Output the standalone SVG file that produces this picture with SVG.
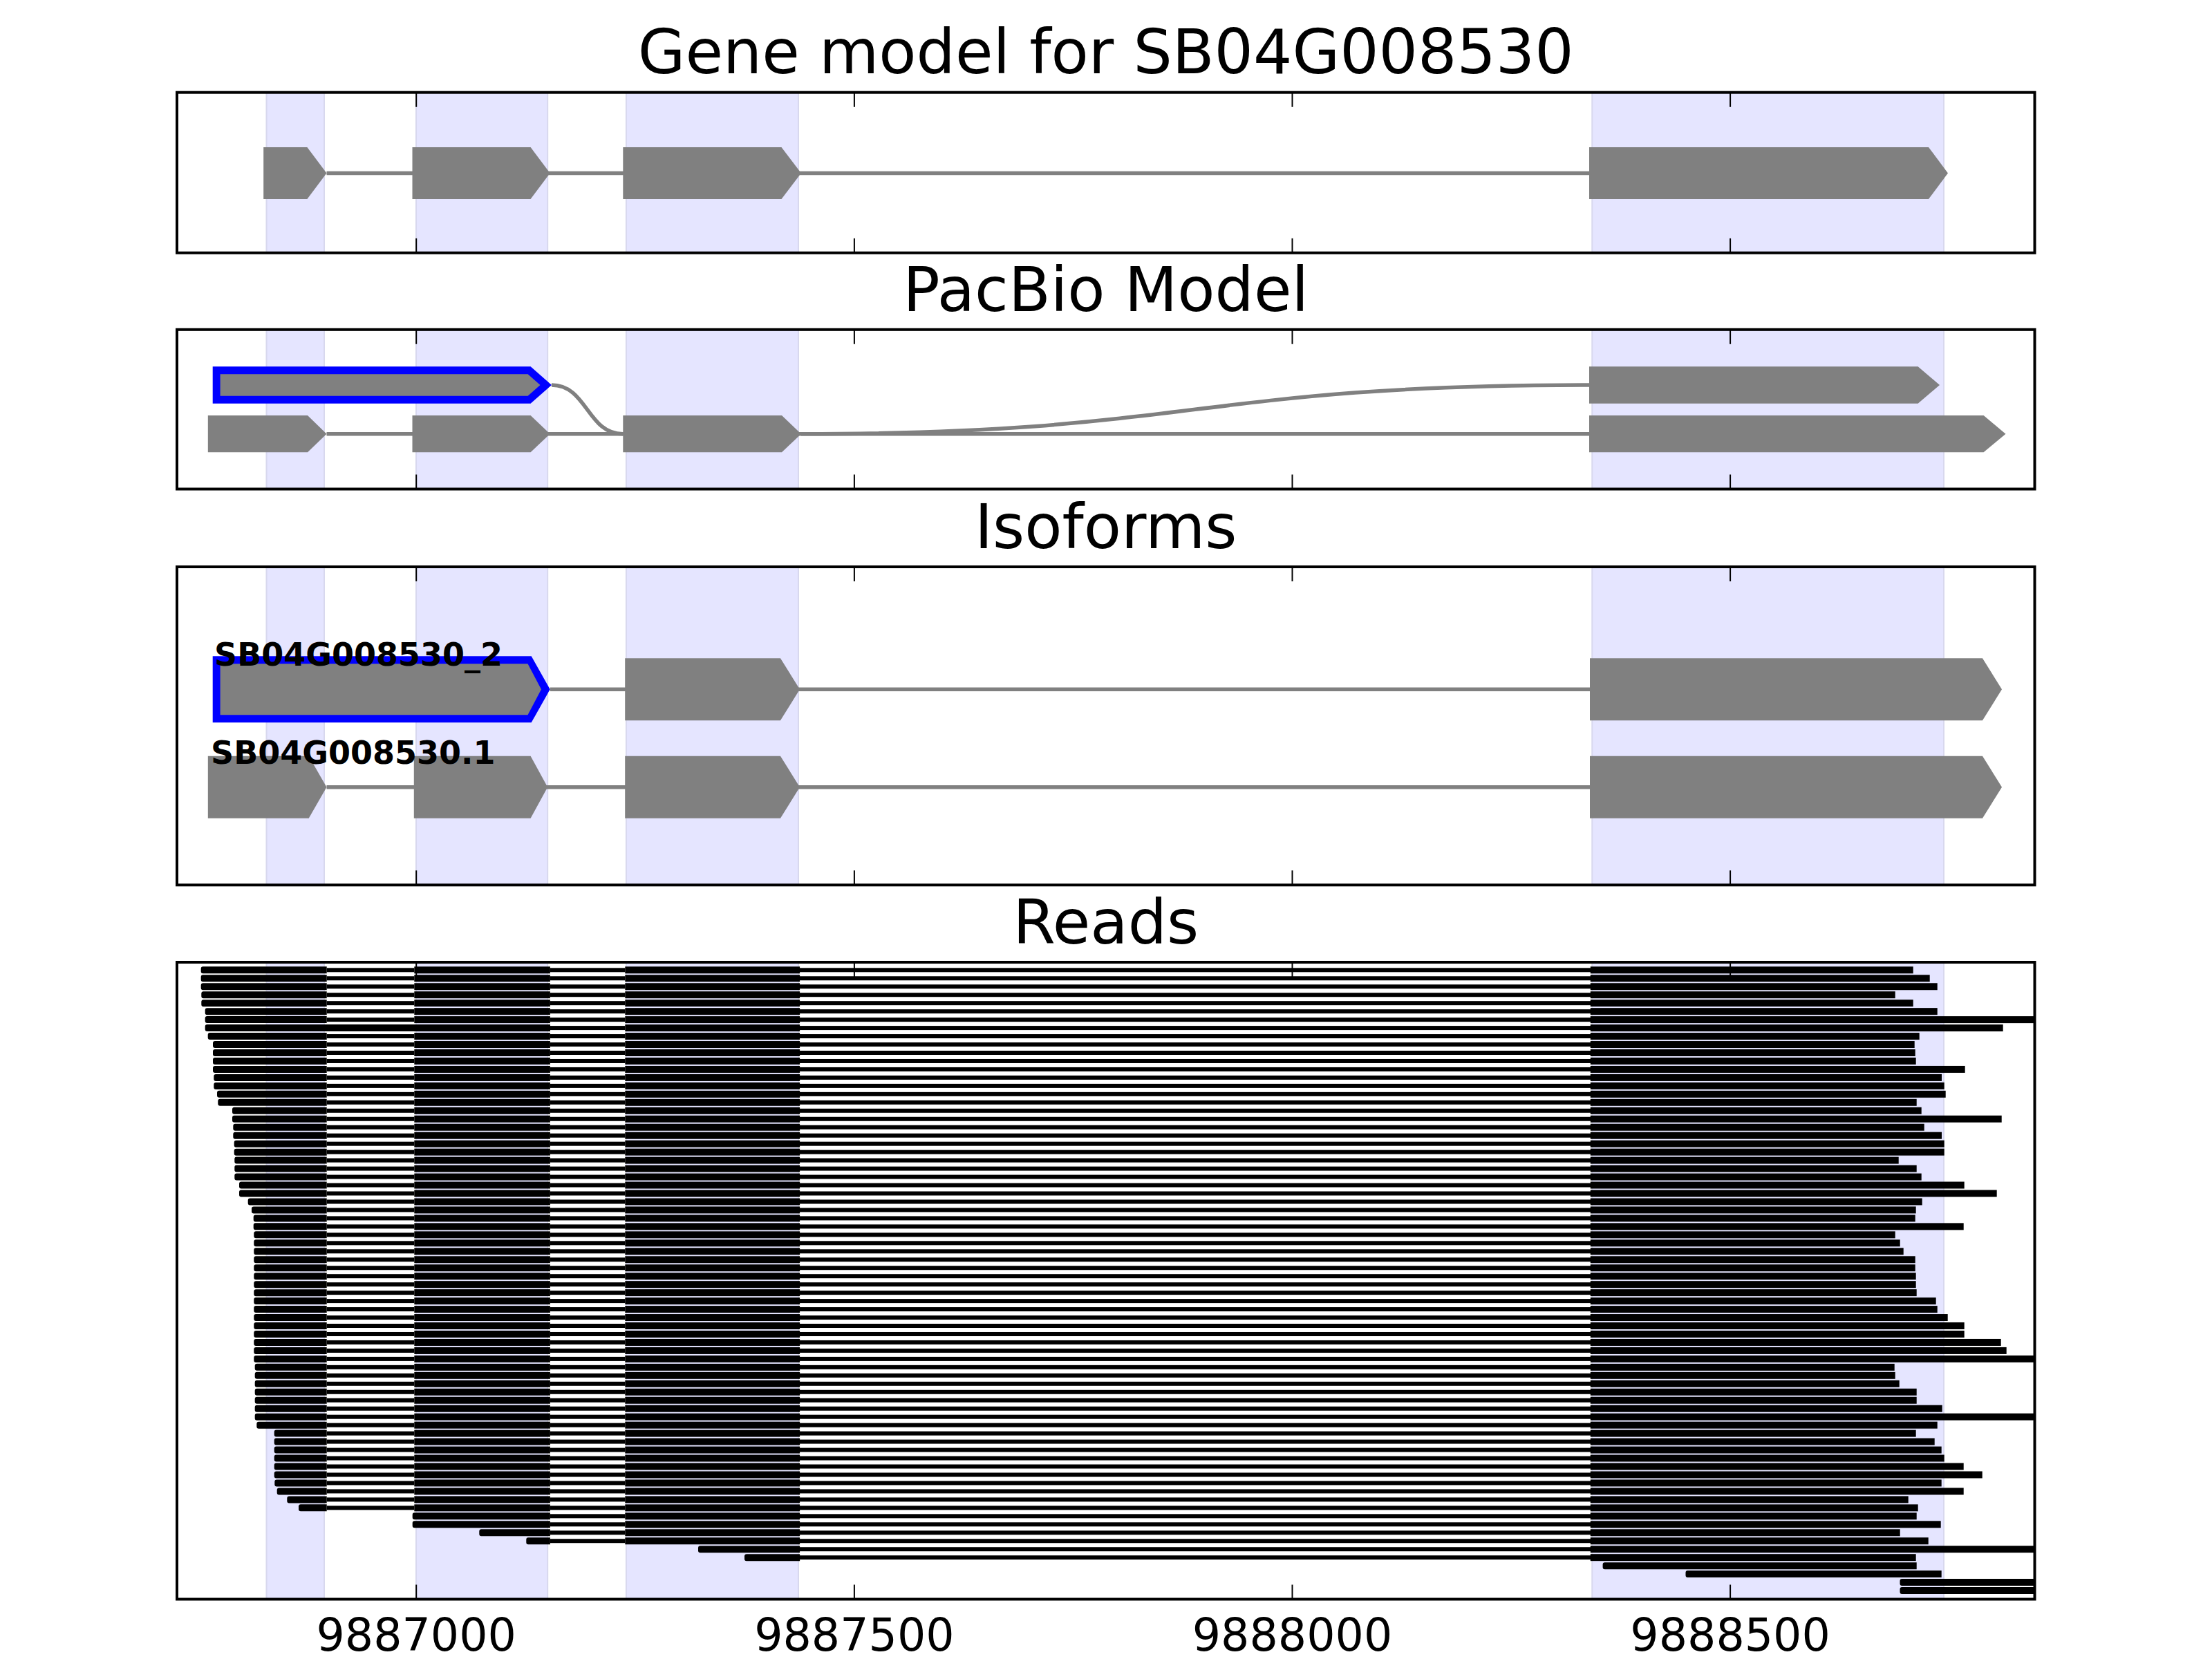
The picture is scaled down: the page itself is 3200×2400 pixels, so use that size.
<svg xmlns="http://www.w3.org/2000/svg" xmlns:xlink="http://www.w3.org/1999/xlink" width="3200" height="2400" viewBox="0 0 3200 2400">
<style>
.title{font-family:"DejaVu Sans","Liberation Sans",sans-serif;font-size:88.7px;text-anchor:middle;fill:#000}
.tick{font-family:"DejaVu Sans","Liberation Sans",sans-serif;font-size:65px;text-anchor:middle;fill:#000}
.lab{font-family:"DejaVu Sans","Liberation Sans",sans-serif;font-size:46px;font-weight:bold;fill:#000}
.span{fill:#e5e5ff;stroke:#d8d8ee;stroke-width:2}
.frame{fill:none;stroke:#000;stroke-width:4}
.ticks{fill:none;stroke:#000;stroke-width:2}
.exon{fill:#808080}
.sel{fill:#0000ff}
.intron{fill:none;stroke:#808080;stroke-width:5.5}
.reads rect,.reads path{fill:#000}
</style>
<defs>
<g id="t3"><rect x="1157" y="-3" width="1144" height="6"/></g>
<g id="m3"><rect x="904.3" y="-5" width="252.8" height="10"/><use xlink:href="#t3"/></g>
<g id="m2"><rect x="795.9" y="-3" width="108.4" height="6"/><use xlink:href="#m3"/></g>
<g id="m1"><rect x="472.7" y="-3" width="126.6" height="6"/><rect x="599.3" y="-5" width="196.6" height="10"/><use xlink:href="#m2"/></g>
</defs>
<rect x="0" y="0" width="3200" height="2400" fill="#fff"/>

<g id="spans">
<rect class="span" x="385.5" y="133.7" width="83.5" height="232.1"/>
<rect class="span" x="602" y="133.7" width="190.2" height="232.1"/>
<rect class="span" x="905.9" y="133.7" width="249.1" height="232.1"/>
<rect class="span" x="2303.3" y="133.7" width="508.7" height="232.1"/>
<rect class="span" x="385.5" y="476.8" width="83.5" height="230.7"/>
<rect class="span" x="602" y="476.8" width="190.2" height="230.7"/>
<rect class="span" x="905.9" y="476.8" width="249.1" height="230.7"/>
<rect class="span" x="2303.3" y="476.8" width="508.7" height="230.7"/>
<rect class="span" x="385.5" y="820" width="83.5" height="460.3"/>
<rect class="span" x="602" y="820" width="190.2" height="460.3"/>
<rect class="span" x="905.9" y="820" width="249.1" height="460.3"/>
<rect class="span" x="2303.3" y="820" width="508.7" height="460.3"/>
<rect class="span" x="385.5" y="1392" width="83.5" height="921.5"/>
<rect class="span" x="602" y="1392" width="190.2" height="921.5"/>
<rect class="span" x="905.9" y="1392" width="249.1" height="921.5"/>
<rect class="span" x="2303.3" y="1392" width="508.7" height="921.5"/>
</g>

<g id="gene-model">
<line class="intron" x1="472.5" y1="250.5" x2="2299" y2="250.5"/>
<polygon class="exon" points="381.2,213 444.4,213 472.5,250.5 444.4,288 381.2,288"/>
<polygon class="exon" points="596.5,213 767.6,213 795.7,250.5 767.6,288 596.5,288"/>
<polygon class="exon" points="901.3,213 1130.5,213 1159,250.5 1130.5,288 901.3,288"/>
<polygon class="exon" points="2299,213 2790,213 2818,250.5 2790,288 2299,288"/>
</g>

<g id="pacbio">
<path class="intron" d="M798,557 C849.5,557 849.5,627.7 901,627.7"/>
<path class="intron" d="M1159,627.7 C1729,627.7 1729,557 2299,557"/>
<line class="intron" x1="472.5" y1="627.7" x2="2299" y2="627.7"/>
<polygon class="sel" points="307.7,530.3 767.6,530.3 798,557 767.6,583.7 307.7,583.7"/>
<polygon class="exon" points="318.6,541.3 763.6,541.3 781.5,557 763.6,572.7 318.6,572.7"/>
<polygon class="exon" points="2299,530.3 2774.6,530.3 2806,557 2774.6,583.7 2299,583.7"/>
<polygon class="exon" points="300.8,601 445,601 472.5,627.7 445,654.3 300.8,654.3"/>
<polygon class="exon" points="596.5,601 767.6,601 795.7,627.7 767.6,654.3 596.5,654.3"/>
<polygon class="exon" points="901.3,601 1131,601 1159,627.7 1131,654.3 901.3,654.3"/>
<polygon class="exon" points="2299,601 2869.6,601 2901.5,627.7 2869.6,654.3 2299,654.3"/>
</g>

<g id="isoforms">
<line class="intron" x1="795.7" y1="997.3" x2="2300" y2="997.3"/>
<line class="intron" x1="472.5" y1="1138.7" x2="2300" y2="1138.7"/>
<polygon class="sel" points="307.7,949.3 768.7,949.3 795.7,997.3 768.7,1045.3 307.7,1045.3"/>
<polygon class="exon" points="318.6,960.3 763.5,960.3 783,997.3 763.5,1034.3 318.6,1034.3"/>
<polygon class="exon" points="904.2,952.3 1129,952.3 1157,997.3 1129,1042.3 904.2,1042.3"/>
<polygon class="exon" points="2300,952.3 2868,952.3 2896,997.3 2868,1042.3 2300,1042.3"/>
<polygon class="exon" points="300.8,1093.7 446.7,1093.7 472.5,1138.7 446.7,1183.7 300.8,1183.7"/>
<polygon class="exon" points="598.8,1093.7 767.6,1093.7 792.2,1138.7 767.6,1183.7 598.8,1183.7"/>
<polygon class="exon" points="904.2,1093.7 1129,1093.7 1157,1138.7 1129,1183.7 904.2,1183.7"/>
<polygon class="exon" points="2300,1093.7 2868,1093.7 2896,1138.7 2868,1183.7 2300,1183.7"/>
<text class="lab" x="310" y="963">SB04G008530_2</text>
<text class="lab" x="305" y="1105">SB04G008530.1</text>
</g>

<g id="reads" class="reads">
<g transform="translate(0,1403.3)"><path d="M293.7,-5H472.7v10H293.7a3,3 0 0 1-3-3v-4a3,3 0 0 1 3-3z"/><use xlink:href="#m1"/><rect x="2300.8" y="-5" width="466.9" height="10"/></g>
<g transform="translate(0,1415.27)"><path d="M293.7,-5H472.7v10H293.7a3,3 0 0 1-3-3v-4a3,3 0 0 1 3-3z"/><use xlink:href="#m1"/><rect x="2300.8" y="-5" width="490.9" height="10"/></g>
<g transform="translate(0,1427.24)"><path d="M293.7,-5H472.7v10H293.7a3,3 0 0 1-3-3v-4a3,3 0 0 1 3-3z"/><use xlink:href="#m1"/><rect x="2300.8" y="-5" width="501.9" height="10"/></g>
<g transform="translate(0,1439.21)"><path d="M294.3,-5H472.7v10H294.3a3,3 0 0 1-3-3v-4a3,3 0 0 1 3-3z"/><use xlink:href="#m1"/><rect x="2300.8" y="-5" width="440.9" height="10"/></g>
<g transform="translate(0,1451.18)"><path d="M294.3,-5H472.7v10H294.3a3,3 0 0 1-3-3v-4a3,3 0 0 1 3-3z"/><use xlink:href="#m1"/><rect x="2300.8" y="-5" width="466.9" height="10"/></g>
<g transform="translate(0,1463.15)"><path d="M299.7,-5H472.7v10H299.7a3,3 0 0 1-3-3v-4a3,3 0 0 1 3-3z"/><use xlink:href="#m1"/><rect x="2300.8" y="-5" width="501.9" height="10"/></g>
<g transform="translate(0,1475.12)"><path d="M299.7,-5H472.7v10H299.7a3,3 0 0 1-3-3v-4a3,3 0 0 1 3-3z"/><use xlink:href="#m1"/><rect x="2300.8" y="-5" width="642.2" height="10"/></g>
<g transform="translate(0,1487.09)"><path d="M299.7,-5H795.9v10H299.7a3,3 0 0 1-3-3v-4a3,3 0 0 1 3-3z"/><use xlink:href="#m1"/><rect x="2300.8" y="-5" width="596.9" height="10"/></g>
<g transform="translate(0,1499.06)"><path d="M303.7,-5H472.7v10H303.7a3,3 0 0 1-3-3v-4a3,3 0 0 1 3-3z"/><use xlink:href="#m1"/><rect x="2300.8" y="-5" width="475.9" height="10"/></g>
<g transform="translate(0,1511.03)"><path d="M311,-5H472.7v10H311a3,3 0 0 1-3-3v-4a3,3 0 0 1 3-3z"/><use xlink:href="#m1"/><rect x="2300.8" y="-5" width="468.9" height="10"/></g>
<g transform="translate(0,1523)"><path d="M311,-5H472.7v10H311a3,3 0 0 1-3-3v-4a3,3 0 0 1 3-3z"/><use xlink:href="#m1"/><rect x="2300.8" y="-5" width="469.9" height="10"/></g>
<g transform="translate(0,1534.97)"><path d="M311,-5H472.7v10H311a3,3 0 0 1-3-3v-4a3,3 0 0 1 3-3z"/><use xlink:href="#m1"/><rect x="2300.8" y="-5" width="470.9" height="10"/></g>
<g transform="translate(0,1546.94)"><path d="M311,-5H472.7v10H311a3,3 0 0 1-3-3v-4a3,3 0 0 1 3-3z"/><use xlink:href="#m1"/><rect x="2300.8" y="-5" width="541.9" height="10"/></g>
<g transform="translate(0,1558.91)"><path d="M312.3,-5H472.7v10H312.3a3,3 0 0 1-3-3v-4a3,3 0 0 1 3-3z"/><use xlink:href="#m1"/><rect x="2300.8" y="-5" width="508.2" height="10"/></g>
<g transform="translate(0,1570.88)"><path d="M312.3,-5H472.7v10H312.3a3,3 0 0 1-3-3v-4a3,3 0 0 1 3-3z"/><use xlink:href="#m1"/><rect x="2300.8" y="-5" width="511.9" height="10"/></g>
<g transform="translate(0,1582.85)"><path d="M317,-5H472.7v10H317a3,3 0 0 1-3-3v-4a3,3 0 0 1 3-3z"/><use xlink:href="#m1"/><rect x="2300.8" y="-5" width="513.9" height="10"/></g>
<g transform="translate(0,1594.82)"><path d="M318.3,-5H472.7v10H318.3a3,3 0 0 1-3-3v-4a3,3 0 0 1 3-3z"/><use xlink:href="#m1"/><rect x="2300.8" y="-5" width="471.9" height="10"/></g>
<g transform="translate(0,1606.79)"><path d="M339,-5H472.7v10H339a3,3 0 0 1-3-3v-4a3,3 0 0 1 3-3z"/><use xlink:href="#m1"/><rect x="2300.8" y="-5" width="478.9" height="10"/></g>
<g transform="translate(0,1618.76)"><path d="M339,-5H472.7v10H339a3,3 0 0 1-3-3v-4a3,3 0 0 1 3-3z"/><use xlink:href="#m1"/><rect x="2300.8" y="-5" width="594.9" height="10"/></g>
<g transform="translate(0,1630.73)"><path d="M340.3,-5H472.7v10H340.3a3,3 0 0 1-3-3v-4a3,3 0 0 1 3-3z"/><use xlink:href="#m1"/><rect x="2300.8" y="-5" width="482.9" height="10"/></g>
<g transform="translate(0,1642.7)"><path d="M340.3,-5H472.7v10H340.3a3,3 0 0 1-3-3v-4a3,3 0 0 1 3-3z"/><use xlink:href="#m1"/><rect x="2300.8" y="-5" width="508.2" height="10"/></g>
<g transform="translate(0,1654.67)"><path d="M341.7,-5H472.7v10H341.7a3,3 0 0 1-3-3v-4a3,3 0 0 1 3-3z"/><use xlink:href="#m1"/><rect x="2300.8" y="-5" width="511.9" height="10"/></g>
<g transform="translate(0,1666.64)"><path d="M341.7,-5H472.7v10H341.7a3,3 0 0 1-3-3v-4a3,3 0 0 1 3-3z"/><use xlink:href="#m1"/><rect x="2300.8" y="-5" width="511.9" height="10"/></g>
<g transform="translate(0,1678.61)"><path d="M342.3,-5H472.7v10H342.3a3,3 0 0 1-3-3v-4a3,3 0 0 1 3-3z"/><use xlink:href="#m1"/><rect x="2300.8" y="-5" width="445.9" height="10"/></g>
<g transform="translate(0,1690.58)"><path d="M342.3,-5H472.7v10H342.3a3,3 0 0 1-3-3v-4a3,3 0 0 1 3-3z"/><use xlink:href="#m1"/><rect x="2300.8" y="-5" width="471.9" height="10"/></g>
<g transform="translate(0,1702.55)"><path d="M342.3,-5H472.7v10H342.3a3,3 0 0 1-3-3v-4a3,3 0 0 1 3-3z"/><use xlink:href="#m1"/><rect x="2300.8" y="-5" width="478.9" height="10"/></g>
<g transform="translate(0,1714.52)"><path d="M349,-5H472.7v10H349a3,3 0 0 1-3-3v-4a3,3 0 0 1 3-3z"/><use xlink:href="#m1"/><rect x="2300.8" y="-5" width="540.9" height="10"/></g>
<g transform="translate(0,1726.49)"><path d="M349,-5H472.7v10H349a3,3 0 0 1-3-3v-4a3,3 0 0 1 3-3z"/><use xlink:href="#m1"/><rect x="2300.8" y="-5" width="587.9" height="10"/></g>
<g transform="translate(0,1738.46)"><path d="M361.7,-5H472.7v10H361.7a3,3 0 0 1-3-3v-4a3,3 0 0 1 3-3z"/><use xlink:href="#m1"/><rect x="2300.8" y="-5" width="479.9" height="10"/></g>
<g transform="translate(0,1750.43)"><path d="M367,-5H472.7v10H367a3,3 0 0 1-3-3v-4a3,3 0 0 1 3-3z"/><use xlink:href="#m1"/><rect x="2300.8" y="-5" width="470.9" height="10"/></g>
<g transform="translate(0,1762.4)"><path d="M369.7,-5H472.7v10H369.7a3,3 0 0 1-3-3v-4a3,3 0 0 1 3-3z"/><use xlink:href="#m1"/><rect x="2300.8" y="-5" width="469.9" height="10"/></g>
<g transform="translate(0,1774.37)"><path d="M369.7,-5H472.7v10H369.7a3,3 0 0 1-3-3v-4a3,3 0 0 1 3-3z"/><use xlink:href="#m1"/><rect x="2300.8" y="-5" width="539.9" height="10"/></g>
<g transform="translate(0,1786.34)"><path d="M370.3,-5H472.7v10H370.3a3,3 0 0 1-3-3v-4a3,3 0 0 1 3-3z"/><use xlink:href="#m1"/><rect x="2300.8" y="-5" width="440.9" height="10"/></g>
<g transform="translate(0,1798.31)"><path d="M370.3,-5H472.7v10H370.3a3,3 0 0 1-3-3v-4a3,3 0 0 1 3-3z"/><use xlink:href="#m1"/><rect x="2300.8" y="-5" width="447.9" height="10"/></g>
<g transform="translate(0,1810.28)"><path d="M370.3,-5H472.7v10H370.3a3,3 0 0 1-3-3v-4a3,3 0 0 1 3-3z"/><use xlink:href="#m1"/><rect x="2300.8" y="-5" width="452.9" height="10"/></g>
<g transform="translate(0,1822.25)"><path d="M370.3,-5H472.7v10H370.3a3,3 0 0 1-3-3v-4a3,3 0 0 1 3-3z"/><use xlink:href="#m1"/><rect x="2300.8" y="-5" width="469.9" height="10"/></g>
<g transform="translate(0,1834.22)"><path d="M370.3,-5H472.7v10H370.3a3,3 0 0 1-3-3v-4a3,3 0 0 1 3-3z"/><use xlink:href="#m1"/><rect x="2300.8" y="-5" width="469.9" height="10"/></g>
<g transform="translate(0,1846.19)"><path d="M370.3,-5H472.7v10H370.3a3,3 0 0 1-3-3v-4a3,3 0 0 1 3-3z"/><use xlink:href="#m1"/><rect x="2300.8" y="-5" width="470.9" height="10"/></g>
<g transform="translate(0,1858.16)"><path d="M370.3,-5H472.7v10H370.3a3,3 0 0 1-3-3v-4a3,3 0 0 1 3-3z"/><use xlink:href="#m1"/><rect x="2300.8" y="-5" width="470.9" height="10"/></g>
<g transform="translate(0,1870.13)"><path d="M370.3,-5H472.7v10H370.3a3,3 0 0 1-3-3v-4a3,3 0 0 1 3-3z"/><use xlink:href="#m1"/><rect x="2300.8" y="-5" width="471.9" height="10"/></g>
<g transform="translate(0,1882.1)"><path d="M370.3,-5H472.7v10H370.3a3,3 0 0 1-3-3v-4a3,3 0 0 1 3-3z"/><use xlink:href="#m1"/><rect x="2300.8" y="-5" width="499.9" height="10"/></g>
<g transform="translate(0,1894.07)"><path d="M370.3,-5H472.7v10H370.3a3,3 0 0 1-3-3v-4a3,3 0 0 1 3-3z"/><use xlink:href="#m1"/><rect x="2300.8" y="-5" width="501.9" height="10"/></g>
<g transform="translate(0,1906.04)"><path d="M370.3,-5H472.7v10H370.3a3,3 0 0 1-3-3v-4a3,3 0 0 1 3-3z"/><use xlink:href="#m1"/><rect x="2300.8" y="-5" width="516.9" height="10"/></g>
<g transform="translate(0,1918.01)"><path d="M370.3,-5H472.7v10H370.3a3,3 0 0 1-3-3v-4a3,3 0 0 1 3-3z"/><use xlink:href="#m1"/><rect x="2300.8" y="-5" width="540.9" height="10"/></g>
<g transform="translate(0,1929.98)"><path d="M370.3,-5H472.7v10H370.3a3,3 0 0 1-3-3v-4a3,3 0 0 1 3-3z"/><use xlink:href="#m1"/><rect x="2300.8" y="-5" width="540.9" height="10"/></g>
<g transform="translate(0,1941.95)"><path d="M370.3,-5H472.7v10H370.3a3,3 0 0 1-3-3v-4a3,3 0 0 1 3-3z"/><use xlink:href="#m1"/><rect x="2300.8" y="-5" width="593.9" height="10"/></g>
<g transform="translate(0,1953.92)"><path d="M370.3,-5H472.7v10H370.3a3,3 0 0 1-3-3v-4a3,3 0 0 1 3-3z"/><use xlink:href="#m1"/><rect x="2300.8" y="-5" width="601.9" height="10"/></g>
<g transform="translate(0,1965.89)"><path d="M370.3,-5H472.7v10H370.3a3,3 0 0 1-3-3v-4a3,3 0 0 1 3-3z"/><use xlink:href="#m1"/><rect x="2300.8" y="-5" width="642.2" height="10"/></g>
<g transform="translate(0,1977.86)"><path d="M371.7,-5H472.7v10H371.7a3,3 0 0 1-3-3v-4a3,3 0 0 1 3-3z"/><use xlink:href="#m1"/><rect x="2300.8" y="-5" width="439.9" height="10"/></g>
<g transform="translate(0,1989.83)"><path d="M371.7,-5H472.7v10H371.7a3,3 0 0 1-3-3v-4a3,3 0 0 1 3-3z"/><use xlink:href="#m1"/><rect x="2300.8" y="-5" width="440.9" height="10"/></g>
<g transform="translate(0,2001.8)"><path d="M371.7,-5H472.7v10H371.7a3,3 0 0 1-3-3v-4a3,3 0 0 1 3-3z"/><use xlink:href="#m1"/><rect x="2300.8" y="-5" width="446.9" height="10"/></g>
<g transform="translate(0,2013.77)"><path d="M371.7,-5H472.7v10H371.7a3,3 0 0 1-3-3v-4a3,3 0 0 1 3-3z"/><use xlink:href="#m1"/><rect x="2300.8" y="-5" width="471.9" height="10"/></g>
<g transform="translate(0,2025.74)"><path d="M371.7,-5H472.7v10H371.7a3,3 0 0 1-3-3v-4a3,3 0 0 1 3-3z"/><use xlink:href="#m1"/><rect x="2300.8" y="-5" width="471.9" height="10"/></g>
<g transform="translate(0,2037.71)"><path d="M371.7,-5H472.7v10H371.7a3,3 0 0 1-3-3v-4a3,3 0 0 1 3-3z"/><use xlink:href="#m1"/><rect x="2300.8" y="-5" width="508.9" height="10"/></g>
<g transform="translate(0,2049.68)"><path d="M371.7,-5H472.7v10H371.7a3,3 0 0 1-3-3v-4a3,3 0 0 1 3-3z"/><use xlink:href="#m1"/><rect x="2300.8" y="-5" width="642.2" height="10"/></g>
<g transform="translate(0,2061.65)"><path d="M374.3,-5H472.7v10H374.3a3,3 0 0 1-3-3v-4a3,3 0 0 1 3-3z"/><use xlink:href="#m1"/><rect x="2300.8" y="-5" width="501.9" height="10"/></g>
<g transform="translate(0,2073.62)"><path d="M399.7,-5H472.7v10H399.7a3,3 0 0 1-3-3v-4a3,3 0 0 1 3-3z"/><use xlink:href="#m1"/><rect x="2300.8" y="-5" width="470.9" height="10"/></g>
<g transform="translate(0,2085.59)"><path d="M399.7,-5H472.7v10H399.7a3,3 0 0 1-3-3v-4a3,3 0 0 1 3-3z"/><use xlink:href="#m1"/><rect x="2300.8" y="-5" width="497.9" height="10"/></g>
<g transform="translate(0,2097.56)"><path d="M399.7,-5H472.7v10H399.7a3,3 0 0 1-3-3v-4a3,3 0 0 1 3-3z"/><use xlink:href="#m1"/><rect x="2300.8" y="-5" width="507.9" height="10"/></g>
<g transform="translate(0,2109.53)"><path d="M399.7,-5H472.7v10H399.7a3,3 0 0 1-3-3v-4a3,3 0 0 1 3-3z"/><use xlink:href="#m1"/><rect x="2300.8" y="-5" width="511.9" height="10"/></g>
<g transform="translate(0,2121.5)"><path d="M399.7,-5H472.7v10H399.7a3,3 0 0 1-3-3v-4a3,3 0 0 1 3-3z"/><use xlink:href="#m1"/><rect x="2300.8" y="-5" width="539.9" height="10"/></g>
<g transform="translate(0,2133.47)"><path d="M399.7,-5H472.7v10H399.7a3,3 0 0 1-3-3v-4a3,3 0 0 1 3-3z"/><use xlink:href="#m1"/><rect x="2300.8" y="-5" width="566.9" height="10"/></g>
<g transform="translate(0,2145.44)"><path d="M400.3,-5H472.7v10H400.3a3,3 0 0 1-3-3v-4a3,3 0 0 1 3-3z"/><use xlink:href="#m1"/><rect x="2300.8" y="-5" width="507.9" height="10"/></g>
<g transform="translate(0,2157.41)"><path d="M403.7,-5H472.7v10H403.7a3,3 0 0 1-3-3v-4a3,3 0 0 1 3-3z"/><use xlink:href="#m1"/><rect x="2300.8" y="-5" width="539.9" height="10"/></g>
<g transform="translate(0,2169.38)"><path d="M418.3,-5H472.7v10H418.3a3,3 0 0 1-3-3v-4a3,3 0 0 1 3-3z"/><use xlink:href="#m1"/><rect x="2300.8" y="-5" width="459.9" height="10"/></g>
<g transform="translate(0,2181.35)"><path d="M435,-5H472.7v10H435a3,3 0 0 1-3-3v-4a3,3 0 0 1 3-3z"/><use xlink:href="#m1"/><rect x="2300.8" y="-5" width="473.9" height="10"/></g>
<g transform="translate(0,2193.32)"><path d="M599.7,-5H795.9v10H599.7a3,3 0 0 1-3-3v-4a3,3 0 0 1 3-3z"/><use xlink:href="#m2"/><rect x="2300.8" y="-5" width="471.9" height="10"/></g>
<g transform="translate(0,2205.29)"><path d="M599.7,-5H795.9v10H599.7a3,3 0 0 1-3-3v-4a3,3 0 0 1 3-3z"/><use xlink:href="#m2"/><rect x="2300.8" y="-5" width="506.9" height="10"/></g>
<g transform="translate(0,2217.26)"><path d="M696.3,-5H795.9v10H696.3a3,3 0 0 1-3-3v-4a3,3 0 0 1 3-3z"/><use xlink:href="#m2"/><rect x="2300.8" y="-5" width="447.9" height="10"/></g>
<g transform="translate(0,2229.23)"><path d="M764.3,-5H795.9v10H764.3a3,3 0 0 1-3-3v-4a3,3 0 0 1 3-3z"/><use xlink:href="#m2"/><rect x="2300.8" y="-5" width="488.9" height="10"/></g>
<g transform="translate(0,2241.2)"><path d="M1013,-5H1157.1v10H1013a3,3 0 0 1-3-3v-4a3,3 0 0 1 3-3z"/><use xlink:href="#t3"/><rect x="2300.8" y="-5" width="642.2" height="10"/></g>
<g transform="translate(0,2253.17)"><path d="M1080,-5H1157.1v10H1080a3,3 0 0 1-3-3v-4a3,3 0 0 1 3-3z"/><use xlink:href="#t3"/><rect x="2300.8" y="-5" width="470.9" height="10"/></g>
<g transform="translate(0,2265.14)"><path d="M2321.6,-5H2772.7v10H2321.6a3,3 0 0 1-3-3v-4a3,3 0 0 1 3-3z"/></g>
<g transform="translate(0,2277.11)"><path d="M2441.5,-5H2808.7v10H2441.5a3,3 0 0 1-3-3v-4a3,3 0 0 1 3-3z"/></g>
<g transform="translate(0,2289.08)"><path d="M2751.5,-5H2943v10H2751.5a3,3 0 0 1-3-3v-4a3,3 0 0 1 3-3z"/></g>
<g transform="translate(0,2301.05)"><path d="M2751.5,-5H2943v10H2751.5a3,3 0 0 1-3-3v-4a3,3 0 0 1 3-3z"/></g>
</g>

<g id="axes">
<rect class="frame" x="256" y="133.7" width="2687.5" height="232.1"/>
<rect class="frame" x="256" y="476.8" width="2687.5" height="230.7"/>
<rect class="frame" x="256" y="820" width="2687.5" height="460.3"/>
<rect class="frame" x="256" y="1392" width="2687.5" height="921.5"/>
<path class="ticks" d="M602.2,133.7v21M1235.9,133.7v21M1869.5,133.7v21M2503.1,133.7v21M602.2,365.8v-21M1235.9,365.8v-21M1869.5,365.8v-21M2503.1,365.8v-21
M602.2,476.8v21M1235.9,476.8v21M1869.5,476.8v21M2503.1,476.8v21M602.2,707.5v-21M1235.9,707.5v-21M1869.5,707.5v-21M2503.1,707.5v-21
M602.2,820v21M1235.9,820v21M1869.5,820v21M2503.1,820v21M602.2,1280.3v-21M1235.9,1280.3v-21M1869.5,1280.3v-21M2503.1,1280.3v-21
M602.2,1392v21M1235.9,1392v21M1869.5,1392v21M2503.1,1392v21M602.2,2313.5v-21M1235.9,2313.5v-21M1869.5,2313.5v-21M2503.1,2313.5v-21"/>
<text class="tick" x="602.2" y="2388">9887000</text>
<text class="tick" x="1235.9" y="2388">9887500</text>
<text class="tick" x="1869.5" y="2388">9888000</text>
<text class="tick" x="2503.1" y="2388">9888500</text>
</g>

<g id="titles">
<text class="title" x="1599.7" y="106">Gene model for SB04G008530</text>
<text class="title" x="1599.7" y="450">PacBio Model</text>
<text class="title" x="1599.7" y="793">Isoforms</text>
<text class="title" x="1599.7" y="1365">Reads</text>
</g>
</svg>
